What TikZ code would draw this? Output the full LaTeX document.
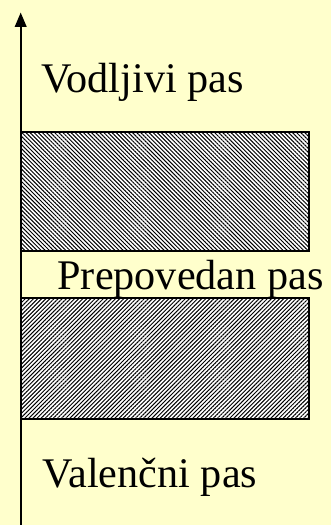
\documentclass[tikz,border=0pt]{standalone}
\usepackage{fontspec}
\setmainfont{Liberation Serif}
\usetikzlibrary{patterns.meta,arrows.meta}
\definecolor{bgyellow}{HTML}{FFFFCC}
\tikzset{
  band/.style={draw=black,line width=2pt,preaction={fill=white}},
  bandup/.style={band,pattern={Lines[angle=-45,distance=2.9pt,line width=1pt]}},
  banddown/.style={band,pattern={Lines[angle=45,distance=2.9pt,line width=1pt]}},
  lbl/.style={inner sep=0pt,anchor=base west,font=\fontsize{42.2}{50}\selectfont},
  vaxis/.style={line width=2pt,arrows={-{Triangle[length=14.5pt,width=11.6pt]}}}
}
\begin{document}
\begin{tikzpicture}[x=1pt,y=1pt]
\fill[bgyellow] (0,0) rectangle (331,525);
\useasboundingbox (0,0) rectangle (331,525);
\draw[bandup] (20.7,393.3) rectangle (309,273.5);
\draw[banddown] (20.7,227) rectangle (309,106);
\coordinate (abot) at (20.7,0);
\coordinate (atip) at (20.7,512.5);
\draw[vaxis] (abot) -- (atip);
\node[lbl] (cond) at (41.5,432) {Vodljivi pas};
\node[lbl] (gap) at (57.3,235) {Prepovedan pas};
\node[lbl] (val) at (42.5,37) {Valenčni pas};
\end{tikzpicture}
\end{document}
